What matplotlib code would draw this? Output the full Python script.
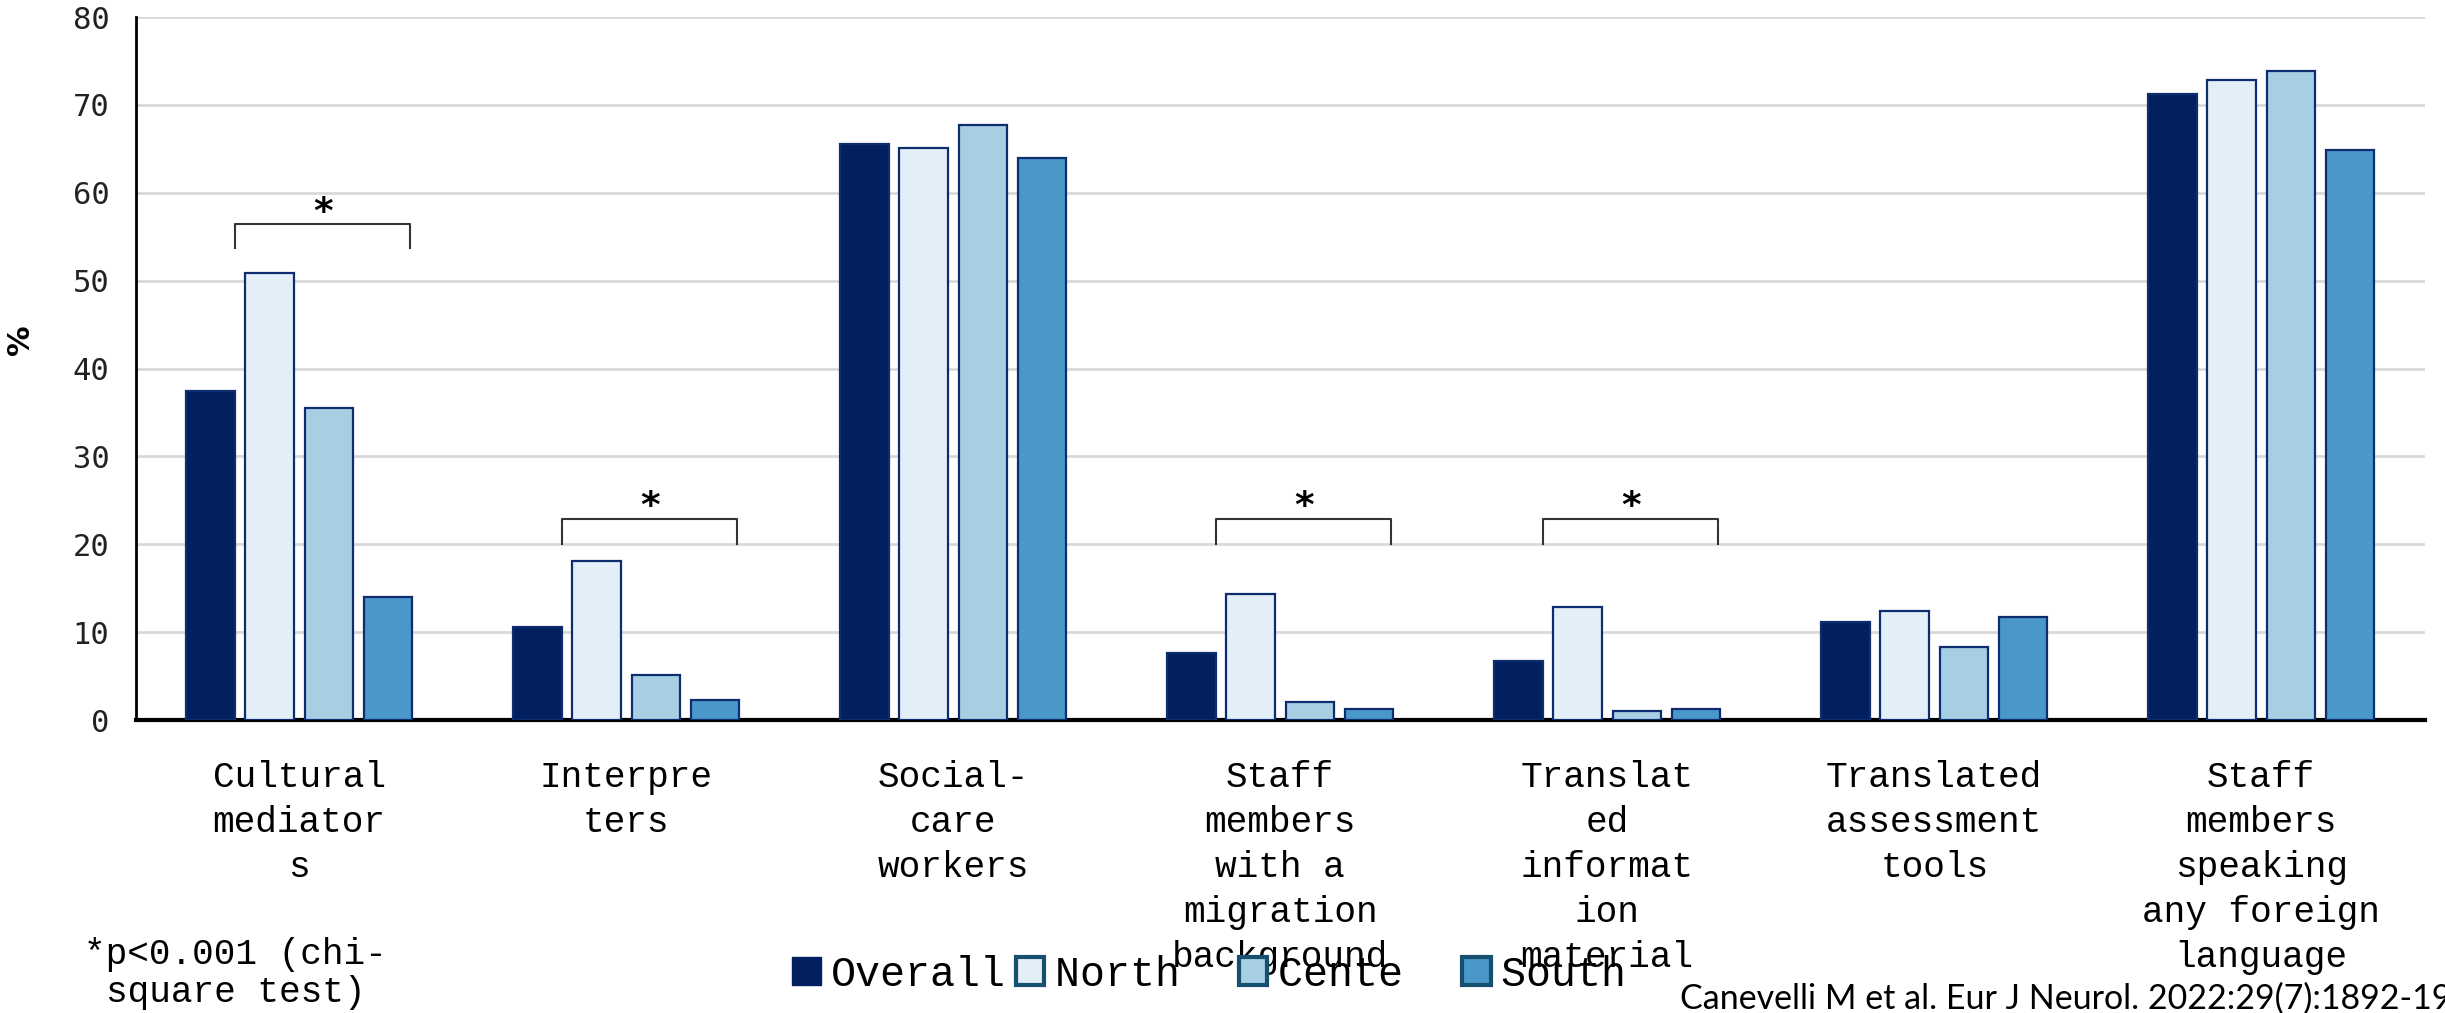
import numpy as np
import matplotlib
matplotlib.use("Agg")
from matplotlib import pyplot as plt
from matplotlib.patches import Patch

categories = ["Cultural\nmediator\ns", "Interpre\nters", "Social-\ncare\nworkers",
              "Staff\nmembers\nwith a\nmigration\nbackground",
              "Translat\ned\ninformat\nion\nmaterial",
              "Translated\nassessment\ntools",
              "Staff\nmembers\nspeaking\nany foreign\nlanguage"]
series = ["Overall", "North", "Cente", "South"]
overall = [37.4, 10.6, 65.6, 7.6, 6.7, 11.2, 71.3]
north = [50.9, 18.1, 65.1, 14.4, 12.9, 12.4, 72.9]
cente = [35.5, 5.1, 67.7, 2.1, 1.0, 8.3, 73.9]
south = [14.0, 2.3, 64.0, 1.2, 1.2, 11.7, 64.9]
values = [overall, north, cente, south]
colors = ["#02205f", "#e2eef8", "#a7cee3", "#4a97c9"]

# significance brackets: category index, bracket top, bracket foot
sig_idx = [0, 1, 3, 4]
sig_top = [56.4, 22.9, 22.9, 22.9]
sig_foot = [53.7, 20.0, 20.0, 20.0]

mono = "Liberation Mono"

fig = plt.figure(figsize=(24.45, 10.13), dpi=100)
ax = fig.add_axes([0.0555, 0.2892, 0.9362, 0.6939])

x = np.arange(len(categories))
step = 0.181
width = 0.148
for i, vals in enumerate(values):
    ax.bar(x + (i - 1.5) * step, vals, width, color=colors[i],
           edgecolor="#0d2d6e", linewidth=1.6, zorder=3)

for k, top, foot in zip(sig_idx, sig_top, sig_foot):
    x0 = k - 0.195
    x1 = k + 0.338
    ax.plot([x0, x0, x1, x1], [foot, top, top, foot], color="#333333", lw=1.5, zorder=4)
    ax.text((x0 + x1) / 2, top + 1.3, "*", ha="center", va="center",
            fontsize=27, family="DejaVu Sans", fontweight="bold")

ax.set_xlim(-0.5, 6.5)
ax.set_ylim(0, 80)
ax.set_yticks(range(0, 81, 10))
ax.yaxis.grid(True, color="#d9d9d9", linewidth=2)
ax.set_axisbelow(True)
for s in ["top", "right"]:
    ax.spines[s].set_visible(False)
ax.spines["left"].set_linewidth(2)
ax.spines["bottom"].set_linewidth(3)

ax.set_xticks(x)
ax.set_xticklabels(categories, family=mono, fontsize=26, linespacing=1.37)
ax.tick_params(axis="x", length=0, pad=29)
ax.tick_params(axis="y", length=0, pad=19, labelsize=22)
for lab in ax.get_yticklabels():
    lab.set_family("DejaVu Sans Mono")
    lab.set_color("#222222")

fig.text(0.0083, 0.665, "%", rotation=90, ha="center", va="center",
         fontsize=22, fontweight="bold")

handles = [Patch(facecolor=colors[0], edgecolor=colors[0])]
for c in colors[1:]:
    handles.append(Patch(facecolor=c, edgecolor="#17506e", linewidth=3))
labels = [s.ljust(7) for s in series]
fig.legend(handles, labels, loc="center left", bbox_to_anchor=(0.324, 0.038),
           ncol=4, frameon=False, prop={"family": mono, "size": 30},
           handlelength=0.68, handleheight=0.68, handletextpad=0.26,
           columnspacing=0.22, borderpad=0, borderaxespad=0)

fig.text(0.0963, 0.075, "*p<0.001 (chi-\nsquare test)", ha="center", va="top",
         family=mono, fontsize=26, linespacing=1.1)
fig.text(0.687, -0.002, "Canevelli M et al. Eur J Neurol. 2022:29(7):1892-19",
         ha="left", va="bottom", family="Lato", fontsize=24.5)

fig.savefig("out.png", dpi=100)
